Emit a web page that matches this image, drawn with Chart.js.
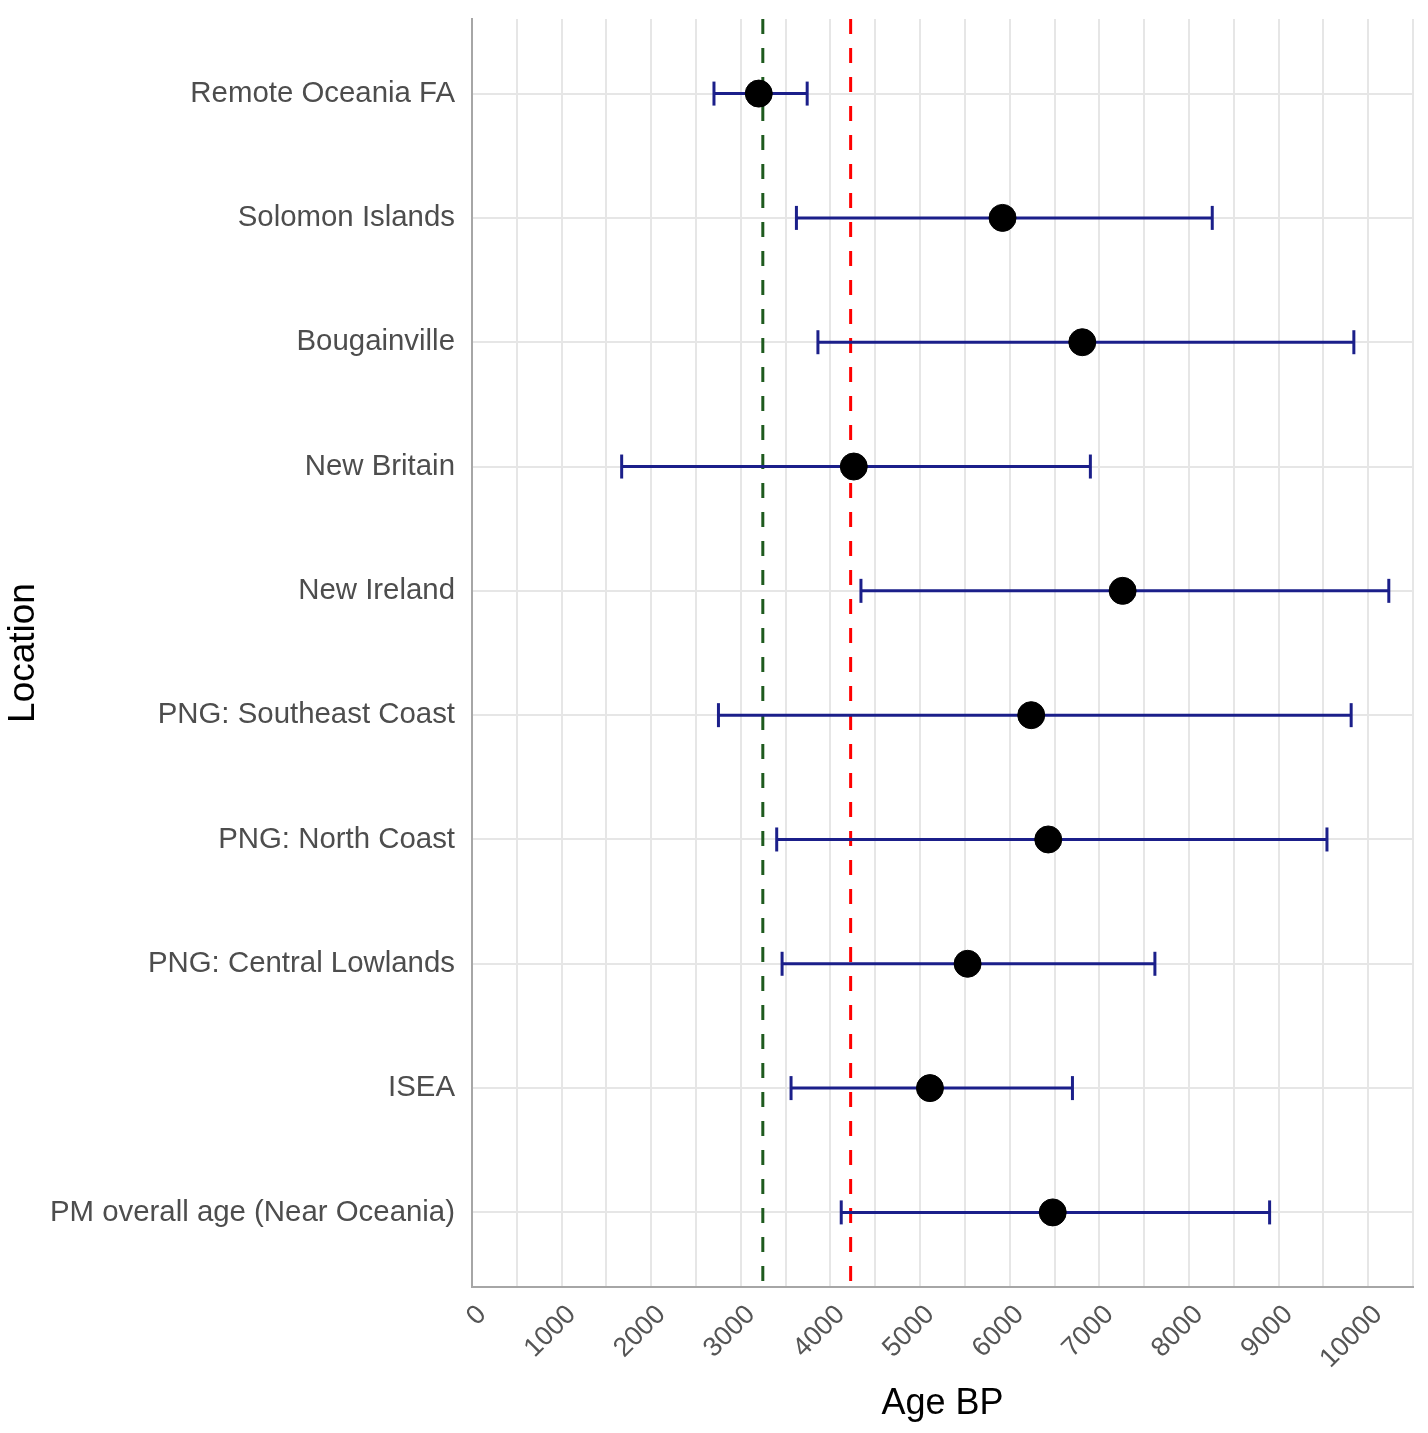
<!DOCTYPE html>
<html>
<head>
<meta charset="utf-8">
<script src="https://cdn.jsdelivr.net/npm/chart.js@4"></script>
<style>
  body { margin: 0; background: #fff; }
  #wrap { width: 1428px; height: 1433px; }
</style>
</head>
<body>
<div id="wrap"><canvas id="ageChart" width="1428" height="1433"></canvas></div>
<script>
const locations = ["Remote Oceania FA", "Solomon Islands", "Bougainville", "New Britain", "New Ireland",
  "PNG: Southeast Coast", "PNG: North Coast", "PNG: Central Lowlands", "ISEA", "PM overall age (Near Oceania)"];
const meanAge = [3200, 5920, 6810, 4260, 7260, 6240, 6430, 5530, 5110, 6480];
const lowerAge = [2700, 3620, 3860, 1670, 4340, 2750, 3400, 3460, 3560, 4120];
const upperAge = [3740, 8260, 9840, 6900, 10230, 9810, 9540, 7620, 6700, 8900];
const xTicks = [0, 1000, 2000, 3000, 4000, 5000, 6000, 7000, 8000, 9000, 10000];
const greenAge = 3245;
const redAge = 4225;

const fontFamily = "'Liberation Sans', Arial, sans-serif";

// one dataset per error bar, caps drawn as rotated "line" points
const errorSets = locations.map((loc, i) => ({
  type: 'line',
  data: [{ x: lowerAge[i], y: i + 1 }, { x: upperAge[i], y: i + 1 }],
  borderColor: '#1b1f8a',
  borderWidth: 3,
  pointStyle: 'line',
  pointRotation: 90,
  pointRadius: 12,
  pointBorderWidth: 3,
  pointBorderColor: '#1b1f8a',
  order: 1
}));

function refLine(x, color) {
  return {
    type: 'line',
    data: [{ x: x, y: 0.4 }, { x: x, y: 10.6 }],
    borderColor: color,
    borderWidth: 3,
    borderDash: [15, 14],
    pointRadius: 0,
    order: 2
  };
}

new Chart(document.getElementById('ageChart'), {
  type: 'scatter',
  data: {
    datasets: [
      {
        data: meanAge.map((v, i) => ({ x: v, y: i + 1 })),
        backgroundColor: '#000',
        borderColor: '#000',
        pointRadius: 13.5,
        order: 0
      },
      ...errorSets,
      refLine(greenAge, '#1e5a1e'),
      refLine(redAge, '#ff0000')
    ]
  },
  options: {
    responsive: false,
    animation: false,
    devicePixelRatio: 1,
    layout: { padding: { left: 0, top: 19, right: 15, bottom: 0 } },
    plugins: { legend: { display: false }, tooltip: { enabled: false } },
    scales: {
      x: {
        type: 'linear',
        min: 0,
        max: 10500,
        afterBuildTicks: scale => {
          const t = [];
          for (let v = 0; v <= 10500; v += 500) t.push({ value: v });
          scale.ticks = t;
        },
        afterFit: scale => {
          scale.height = 146;
          scale.paddingLeft = 0;
          scale.paddingRight = 0;
        },
        ticks: {
          autoSkip: false,
          minRotation: 45,
          maxRotation: 45,
          padding: 12,
          labelOffset: 10,
          color: '#555',
          font: { family: fontFamily, size: 27 },
          callback: v => xTicks.includes(v) ? String(v) : ''
        },
        grid: { color: '#e6e6e6', lineWidth: 2, drawTicks: false },
        border: { display: true, color: '#a6a6a6', width: 2 },
        title: {
          display: true,
          text: 'Age BP',
          color: '#000',
          font: { family: fontFamily, size: 36 },
          padding: { top: 0, bottom: 7 }
        }
      },
      y: {
        type: 'linear',
        reverse: true,
        min: 0.4,
        max: 10.6,
        afterBuildTicks: scale => {
          scale.ticks = locations.map((l, i) => ({ value: i + 1 }));
        },
        afterFit: scale => {
          scale.width = 472;
          scale.paddingTop = 0;
          scale.paddingBottom = 0;
        },
        ticks: {
          autoSkip: false,
          padding: 17,
          color: '#4d4d4d',
          font: { family: fontFamily, size: 29.4 },
          callback: v => locations[v - 1]
        },
        grid: { color: '#e6e6e6', lineWidth: 2, drawTicks: false },
        border: { display: true, color: '#a6a6a6', width: 2 },
        title: {
          display: true,
          text: 'Location',
          color: '#000',
          font: { family: fontFamily, size: 37 },
          padding: { top: 2, bottom: 0 }
        }
      }
    }
  }
});
</script>
</body>
</html>
